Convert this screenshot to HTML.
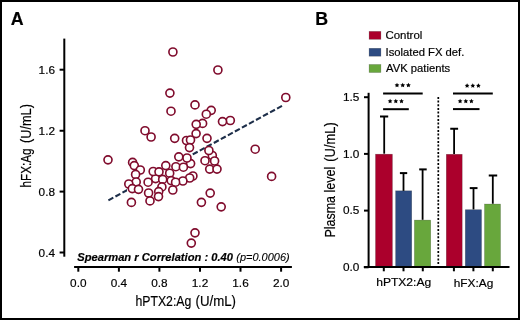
<!DOCTYPE html>
<html><head><meta charset="utf-8"><style>
html,body{margin:0;padding:0;background:#fff;}
body{width:520px;height:320px;overflow:hidden;}
svg{display:block;will-change:transform;font-family:"Liberation Sans",sans-serif;}
text{stroke:#000;stroke-width:0.18px;}
</style></head><body>
<svg width="520" height="320" viewBox="0 0 520 320">
<rect x="0" y="0" width="520" height="320" fill="#fff"/>
<rect x="1" y="1" width="518" height="318" fill="none" stroke="#000" stroke-width="2"/>
<text x="10.8" y="25.1" font-size="17.8" font-weight="bold">A</text>
<text x="315.3" y="25.1" font-size="17.8" font-weight="bold">B</text>
<g stroke="#000" stroke-width="2" fill="none">
<line x1="64.3" y1="38.6" x2="64.3" y2="256.7"/>
<line x1="59.6" y1="69.7" x2="64" y2="69.7"/>
<line x1="59.6" y1="130.75" x2="64" y2="130.75"/>
<line x1="59.6" y1="191.6" x2="64" y2="191.6"/>
<line x1="59.6" y1="252.5" x2="64" y2="252.5"/>
<line x1="74.1" y1="267" x2="291.9" y2="267"/>
<line x1="78.3" y1="267" x2="78.3" y2="271.7"/>
<line x1="118.9" y1="267" x2="118.9" y2="271.7"/>
<line x1="159.4" y1="267" x2="159.4" y2="271.7"/>
<line x1="200.0" y1="267" x2="200.0" y2="271.7"/>
<line x1="240.5" y1="267" x2="240.5" y2="271.7"/>
<line x1="281.1" y1="267" x2="281.1" y2="271.7"/>
</g>
<g font-size="11.8" fill="#000">
<text x="55" y="73.7" text-anchor="end">1.6</text>
<text x="55" y="134.75" text-anchor="end">1.2</text>
<text x="55" y="195.6" text-anchor="end">0.8</text>
<text x="55" y="256.5" text-anchor="end">0.4</text>
<text x="78.3" y="286.6" text-anchor="middle">0.0</text>
<text x="118.9" y="286.6" text-anchor="middle">0.4</text>
<text x="159.4" y="286.6" text-anchor="middle">0.8</text>
<text x="200.0" y="286.6" text-anchor="middle">1.2</text>
<text x="240.5" y="286.6" text-anchor="middle">1.6</text>
<text x="281.1" y="286.6" text-anchor="middle">2.0</text>
</g>


<clipPath id="lc"><rect x="100" y="180" width="27" height="30"/><rect x="192" y="90" width="100" height="70"/></clipPath>
<line x1="108.4" y1="200.3" x2="282.5" y2="105.6" stroke="#1e2f4a" stroke-width="2.1" stroke-dasharray="5.6 2.4" clip-path="url(#lc)"/>
<g fill="#fff" stroke="#800c2d" stroke-width="1.65">
<circle cx="172.9" cy="52.0" r="4.0"/>
<circle cx="217.9" cy="70.0" r="4.0"/>
<circle cx="169.9" cy="93.1" r="4.0"/>
<circle cx="195.0" cy="104.9" r="4.0"/>
<circle cx="171.0" cy="111.2" r="4.0"/>
<circle cx="211.2" cy="110.3" r="4.0"/>
<circle cx="206.3" cy="114.2" r="4.0"/>
<circle cx="202.6" cy="123.4" r="4.0"/>
<circle cx="196.2" cy="124.3" r="4.0"/>
<circle cx="230.3" cy="120.5" r="4.0"/>
<circle cx="222.5" cy="121.6" r="4.0"/>
<circle cx="285.8" cy="97.5" r="4.0"/>
<circle cx="145.0" cy="130.7" r="4.0"/>
<circle cx="151.1" cy="137.0" r="4.0"/>
<circle cx="174.7" cy="138.3" r="4.0"/>
<circle cx="196.1" cy="133.6" r="4.0"/>
<circle cx="186.5" cy="140.5" r="4.0"/>
<circle cx="190.5" cy="140.0" r="4.0"/>
<circle cx="207.0" cy="138.3" r="4.0"/>
<circle cx="189.5" cy="147.6" r="4.0"/>
<circle cx="212.3" cy="155.5" r="4.0"/>
<circle cx="208.9" cy="150.5" r="4.0"/>
<circle cx="255.2" cy="149.2" r="4.0"/>
<circle cx="108.0" cy="159.8" r="4.0"/>
<circle cx="132.6" cy="162.4" r="4.0"/>
<circle cx="134.3" cy="165.6" r="4.0"/>
<circle cx="190.6" cy="163.6" r="4.0"/>
<circle cx="178.8" cy="156.8" r="4.0"/>
<circle cx="187.0" cy="158.0" r="4.0"/>
<circle cx="205.0" cy="160.7" r="4.0"/>
<circle cx="214.6" cy="161.0" r="4.0"/>
<circle cx="165.8" cy="165.6" r="4.0"/>
<circle cx="175.9" cy="166.7" r="4.0"/>
<circle cx="183.4" cy="167.2" r="4.0"/>
<circle cx="140.3" cy="170.0" r="4.0"/>
<circle cx="155.6" cy="178.6" r="4.0"/>
<circle cx="153.2" cy="171.5" r="4.0"/>
<circle cx="159.0" cy="171.8" r="4.0"/>
<circle cx="169.7" cy="173.2" r="4.0"/>
<circle cx="135.6" cy="174.5" r="4.0"/>
<circle cx="209.7" cy="169.1" r="4.0"/>
<circle cx="217.0" cy="169.1" r="4.0"/>
<circle cx="192.9" cy="176.0" r="4.0"/>
<circle cx="189.7" cy="178.0" r="4.0"/>
<circle cx="182.9" cy="181.0" r="4.0"/>
<circle cx="148.1" cy="182.2" r="4.0"/>
<circle cx="162.7" cy="179.4" r="4.0"/>
<circle cx="171.2" cy="180.6" r="4.0"/>
<circle cx="175.6" cy="182.2" r="4.0"/>
<circle cx="136.2" cy="182.0" r="4.0"/>
<circle cx="128.8" cy="184.0" r="4.0"/>
<circle cx="132.3" cy="188.6" r="4.0"/>
<circle cx="138.5" cy="189.3" r="4.0"/>
<circle cx="161.9" cy="186.9" r="4.0"/>
<circle cx="172.8" cy="190.0" r="4.0"/>
<circle cx="148.6" cy="193.0" r="4.0"/>
<circle cx="158.7" cy="191.6" r="4.0"/>
<circle cx="158.5" cy="196.6" r="4.0"/>
<circle cx="150.0" cy="200.9" r="4.0"/>
<circle cx="131.4" cy="202.4" r="4.0"/>
<circle cx="210.2" cy="193.1" r="4.0"/>
<circle cx="201.4" cy="202.3" r="4.0"/>
<circle cx="221.2" cy="206.8" r="4.0"/>
<circle cx="195.0" cy="232.8" r="4.0"/>
<circle cx="191.3" cy="243.1" r="4.0"/>
<circle cx="271.6" cy="176.4" r="4.0"/>
</g>
<text x="77.2" y="260.5" font-size="11.2" font-style="italic" font-weight="bold" fill="#000" textLength="155.8" lengthAdjust="spacingAndGlyphs">Spearman r Correlation : 0.40</text>
<text x="236.3" y="260.5" font-size="11.1" font-style="italic" fill="#000" style="stroke-width:0.1px" textLength="53.4" lengthAdjust="spacingAndGlyphs">(p=0.0006)</text>

<rect x="369.1" y="31.4" width="11.8" height="7.9" fill="#ab002c" stroke="#000" stroke-opacity="0.3" stroke-width="0.6"/>
<rect x="369.1" y="48.3" width="11.8" height="7.9" fill="#2d4b82" stroke="#000" stroke-opacity="0.3" stroke-width="0.6"/>
<rect x="369.1" y="64.5" width="11.8" height="8.0" fill="#68a73c" stroke="#000" stroke-opacity="0.3" stroke-width="0.6"/>

<rect x="375.5" y="154.20000000000002" width="16.90" height="112.80" fill="#ab002c" stroke="#000" stroke-opacity="0.3" stroke-width="0.6"/>
<rect x="395.6" y="190.8" width="16.10" height="76.20" fill="#2d4b82" stroke="#000" stroke-opacity="0.3" stroke-width="0.6"/>
<rect x="414.40000000000003" y="220.10000000000002" width="16.30" height="46.90" fill="#68a73c" stroke="#000" stroke-opacity="0.3" stroke-width="0.6"/>
<rect x="446.3" y="154.3" width="15.90" height="112.70" fill="#ab002c" stroke="#000" stroke-opacity="0.3" stroke-width="0.6"/>
<rect x="465.3" y="209.70000000000002" width="16.20" height="57.30" fill="#2d4b82" stroke="#000" stroke-opacity="0.3" stroke-width="0.6"/>
<rect x="484.5" y="204.05" width="16.00" height="62.95" fill="#68a73c" stroke="#000" stroke-opacity="0.3" stroke-width="0.6"/>
<g stroke="#000" stroke-width="2" fill="none">
<line x1="368.6" y1="92.8" x2="368.6" y2="267"/>
<line x1="364" y1="97.2" x2="368.6" y2="97.2"/>
<line x1="364" y1="153.9" x2="368.6" y2="153.9"/>
<line x1="364" y1="210.6" x2="368.6" y2="210.6"/>
<line x1="364" y1="267.3" x2="368.6" y2="267.3"/>
<line x1="363.8" y1="267" x2="509.5" y2="267"/>
<line x1="383.8" y1="267" x2="383.8" y2="271.3"/>
<line x1="403.5" y1="267" x2="403.5" y2="271.3"/>
<line x1="422.8" y1="267" x2="422.8" y2="271.3"/>
<line x1="453.9" y1="267" x2="453.9" y2="271.3"/>
<line x1="473.4" y1="267" x2="473.4" y2="271.3"/>
<line x1="492.8" y1="267" x2="492.8" y2="271.3"/>
<line x1="384.2" y1="153.7" x2="384.2" y2="116.5" stroke-width="1.8"/><line x1="380.0" y1="116.5" x2="388.2" y2="116.5"/>
<line x1="403.5" y1="190.9" x2="403.5" y2="173.1" stroke-width="1.8"/><line x1="399.9" y1="173.1" x2="407.2" y2="173.1"/>
<line x1="422.6" y1="219.8" x2="422.6" y2="169.4" stroke-width="1.8"/><line x1="419.2" y1="169.4" x2="426.7" y2="169.4"/>
<line x1="454.1" y1="154.0" x2="454.1" y2="128.75" stroke-width="1.8"/><line x1="450.25" y1="128.75" x2="458.1" y2="128.75"/>
<line x1="473.5" y1="209.4" x2="473.5" y2="188.1" stroke-width="1.8"/><line x1="469.75" y1="188.1" x2="477.5" y2="188.1"/>
<line x1="492.8" y1="203.75" x2="492.8" y2="175.5" stroke-width="1.8"/><line x1="488.75" y1="175.5" x2="497.2" y2="175.5"/>
<line x1="383.1" y1="93.4" x2="422.7" y2="93.4"/>
<line x1="383.1" y1="109.2" x2="408.8" y2="109.2"/>
<line x1="453" y1="93.5" x2="492.8" y2="93.5"/>
<line x1="453" y1="109.1" x2="479.5" y2="109.1"/>
<line x1="438.3" y1="96.9" x2="438.3" y2="265.5" stroke-width="1.7" stroke-dasharray="2 1.67"/>
</g>
<g fill="#000"><polygon points="397.00,82.75 397.73,84.24 399.38,84.48 398.19,85.64 398.47,87.27 397.00,86.50 395.53,87.27 395.81,85.64 394.62,84.48 396.27,84.24"/><polygon points="402.70,82.75 403.43,84.24 405.08,84.48 403.89,85.64 404.17,87.27 402.70,86.50 401.23,87.27 401.51,85.64 400.32,84.48 401.97,84.24"/><polygon points="408.40,82.75 409.13,84.24 410.78,84.48 409.59,85.64 409.87,87.27 408.40,86.50 406.93,87.27 407.21,85.64 406.02,84.48 407.67,84.24"/><polygon points="390.10,98.65 390.83,100.14 392.48,100.38 391.29,101.54 391.57,103.17 390.10,102.40 388.63,103.17 388.91,101.54 387.72,100.38 389.37,100.14"/><polygon points="395.80,98.65 396.53,100.14 398.18,100.38 396.99,101.54 397.27,103.17 395.80,102.40 394.33,103.17 394.61,101.54 393.42,100.38 395.07,100.14"/><polygon points="401.50,98.65 402.23,100.14 403.88,100.38 402.69,101.54 402.97,103.17 401.50,102.40 400.03,103.17 400.31,101.54 399.12,100.38 400.77,100.14"/><polygon points="467.10,83.15 467.83,84.64 469.48,84.88 468.29,86.04 468.57,87.67 467.10,86.90 465.63,87.67 465.91,86.04 464.72,84.88 466.37,84.64"/><polygon points="472.80,83.15 473.53,84.64 475.18,84.88 473.99,86.04 474.27,87.67 472.80,86.90 471.33,87.67 471.61,86.04 470.42,84.88 472.07,84.64"/><polygon points="478.40,83.15 479.13,84.64 480.78,84.88 479.59,86.04 479.87,87.67 478.40,86.90 476.93,87.67 477.21,86.04 476.02,84.88 477.67,84.64"/><polygon points="460.10,98.65 460.83,100.14 462.48,100.38 461.29,101.54 461.57,103.17 460.10,102.40 458.63,103.17 458.91,101.54 457.72,100.38 459.37,100.14"/><polygon points="465.80,98.65 466.53,100.14 468.18,100.38 466.99,101.54 467.27,103.17 465.80,102.40 464.33,103.17 464.61,101.54 463.42,100.38 465.07,100.14"/><polygon points="471.40,98.65 472.13,100.14 473.78,100.38 472.59,101.54 472.87,103.17 471.40,102.40 469.93,103.17 470.21,101.54 469.02,100.38 470.67,100.14"/></g>
<g font-size="11.8" fill="#000">
<text x="359.3" y="100.9" text-anchor="end">1.5</text>
<text x="359.3" y="157.6" text-anchor="end">1.0</text>
<text x="359.3" y="214.29999999999998" text-anchor="end">0.5</text>
<text x="359.3" y="271.0" text-anchor="end">0.0</text>
</g>
<text x="135.40" y="306.2" font-size="14.5" textLength="55.91" lengthAdjust="spacingAndGlyphs" fill="#000">hPTX2:Ag</text>
<text x="195.50" y="306.2" font-size="14.5" textLength="40.45" lengthAdjust="spacingAndGlyphs" fill="#000">(U/mL)</text>
<text transform="translate(30.5,187.40) rotate(-90)" font-size="14.2" textLength="39.02" lengthAdjust="spacingAndGlyphs" fill="#000">hFX:Ag</text>
<text transform="translate(30.5,143.10) rotate(-90)" font-size="14.2" textLength="39.08" lengthAdjust="spacingAndGlyphs" fill="#000">(U/mL)</text>
<text transform="translate(334.8,237.60) rotate(-90)" font-size="14.8" textLength="70.82" lengthAdjust="spacingAndGlyphs" fill="#000">Plasma level</text>
<text transform="translate(334.8,161.70) rotate(-90)" font-size="14.8" textLength="39.60" lengthAdjust="spacingAndGlyphs" fill="#000">(U/mL)</text>
<text x="376.20" y="286.2" font-size="11.3" textLength="55.01" lengthAdjust="spacingAndGlyphs" fill="#000">hPTX2:Ag</text>
<text x="453.70" y="286.6" font-size="11.3" textLength="39.63" lengthAdjust="spacingAndGlyphs" fill="#000">hFX:Ag</text>
<text x="385.40" y="38.7" font-size="11" textLength="36.91" lengthAdjust="spacingAndGlyphs" fill="#000">Control</text>
<text x="385.50" y="55.6" font-size="11" textLength="78.87" lengthAdjust="spacingAndGlyphs" fill="#000">Isolated FX def.</text>
<text x="386.10" y="71.8" font-size="11" textLength="64.10" lengthAdjust="spacingAndGlyphs" fill="#000">AVK patients</text>



</svg>
</body></html>
